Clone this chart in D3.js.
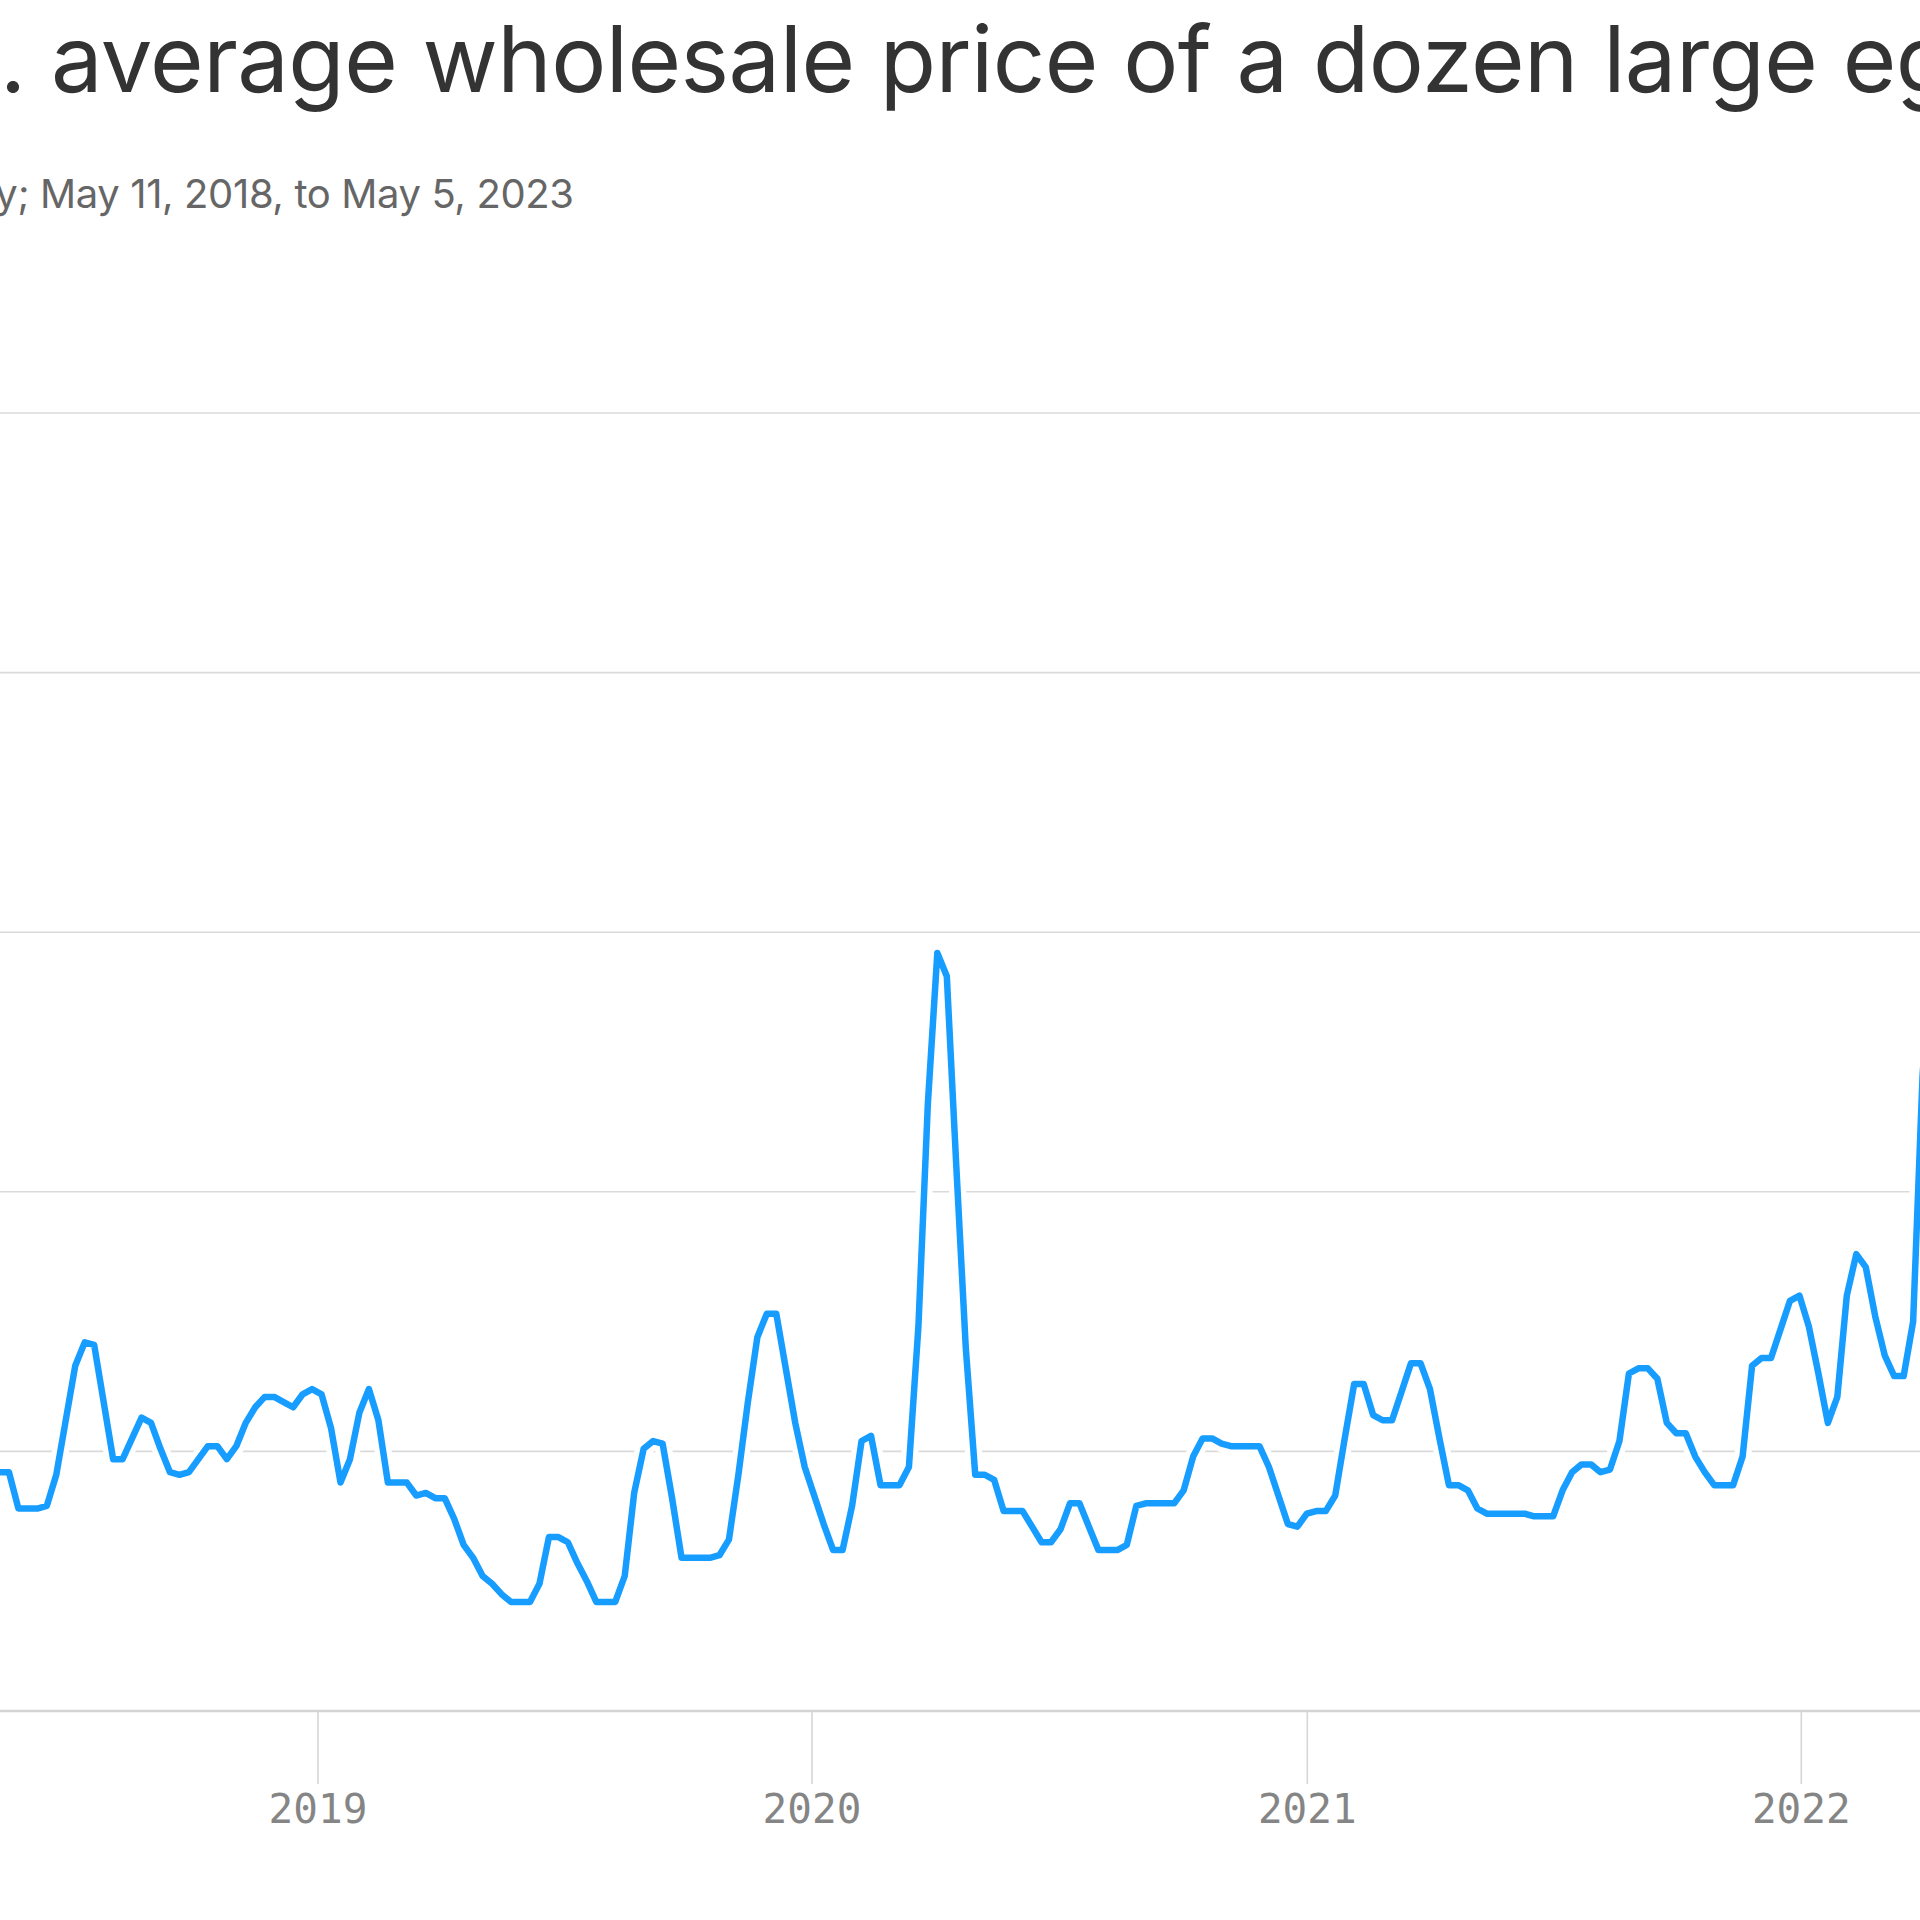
<!DOCTYPE html>
<html>
<head>
<meta charset="utf-8">
<script src="https://cdn.jsdelivr.net/npm/d3@7"></script>
<style>
  html, body { margin: 0; padding: 0; background: #fff; overflow: hidden; }
  svg { display: block; }
</style>
</head>
<body>
<svg id="chart" width="1920" height="1920"></svg>
<script>
// ---------------- DATA ----------------
const titleText = "U.S. average wholesale price of a dozen large eggs";
const subtitleText = "Weekly; May 11, 2018, to May 5, 2023";
const startDate = new Date(2018, 4, 11);   // first weekly observation (Friday)
const endDate = new Date(2023, 4, 5);      // last weekly observation
// Weekly price, dollars per dozen (read from the chart)
const prices = [
  0.92, 0.92, 0.78, 0.78, 0.78, 0.79, 0.91, 1.12, 1.33, 1.42,
  1.41, 1.19, 0.97, 0.97, 1.05, 1.13, 1.11, 1.01, 0.92, 0.91,
  0.92, 0.97, 1.02, 1.02, 0.97, 1.02, 1.11, 1.17, 1.21, 1.21,
  1.19, 1.17, 1.22, 1.24, 1.22, 1.09, 0.88, 0.97, 1.15, 1.24,
  1.12, 0.88, 0.88, 0.88, 0.83, 0.84, 0.82, 0.82, 0.74, 0.64,
  0.59, 0.52, 0.49, 0.45, 0.42, 0.42, 0.42, 0.49, 0.67, 0.67,
  0.65, 0.57, 0.50, 0.42, 0.42, 0.42, 0.52, 0.84, 1.01, 1.04,
  1.03, 0.82, 0.59, 0.59, 0.59, 0.59, 0.60, 0.66, 0.91, 1.19,
  1.44, 1.53, 1.53, 1.32, 1.11, 0.94, 0.83, 0.72, 0.62, 0.62,
  0.79, 1.04, 1.06, 0.87, 0.87, 0.87, 0.94, 1.48, 2.34, 2.92,
  2.83, 2.10, 1.40, 0.91, 0.91, 0.89, 0.77, 0.77, 0.77, 0.71,
  0.65, 0.65, 0.70, 0.80, 0.80, 0.71, 0.62, 0.62, 0.62, 0.64,
  0.79, 0.80, 0.80, 0.80, 0.80, 0.85, 0.98, 1.05, 1.05, 1.03,
  1.02, 1.02, 1.02, 1.02, 0.94, 0.83, 0.72, 0.71, 0.76, 0.77,
  0.77, 0.83, 1.05, 1.26, 1.26, 1.14, 1.12, 1.12, 1.23, 1.34,
  1.34, 1.24, 1.05, 0.87, 0.87, 0.85, 0.78, 0.76, 0.76, 0.76,
  0.76, 0.76, 0.75, 0.75, 0.75, 0.85, 0.92, 0.95, 0.95, 0.92,
  0.93, 1.04, 1.30, 1.32, 1.32, 1.28, 1.11, 1.07, 1.07, 0.98,
  0.92, 0.87, 0.87, 0.87, 0.98, 1.33, 1.36, 1.36, 1.47, 1.58,
  1.60, 1.48, 1.30, 1.11, 1.21, 1.60, 1.76, 1.71, 1.52, 1.37,
  1.29, 1.29, 1.50, 2.45, 2.95
];
const yearTicks = [2019, 2020, 2021, 2022];
const yTicks = [0, 1, 2, 3, 4, 5];

// ---------------- LAYOUT ----------------
const svg = d3.select("#chart");
const x = d3.scaleTime().domain([startDate, endDate]).range([-0.55, 2462.6]);
const y = d3.scaleLinear().domain([0, 5]).range([1711, 413]);

const data = prices.map((v, i) => ({ date: d3.timeDay.offset(startDate, 7 * i), value: v }));

// gridlines
svg.append("g").selectAll("line").data(yTicks).join("line")
  .attr("x1", -50).attr("x2", 2600)
  .attr("y1", d => y(d)).attr("y2", d => y(d))
  .attr("stroke", d => d === 0 ? "#d4d4d4" : "#dadada")
  .attr("stroke-width", d => d === 0 ? 2.5 : 1.6);

// x axis
const xAxis = d3.axisBottom(x)
  .tickValues(yearTicks.map(yr => new Date(yr, 0, 1)))
  .tickFormat(d3.timeFormat("%Y"))
  .tickSize(73)
  .tickPadding(10);
const gx = svg.append("g").attr("transform", `translate(0,${y(0)})`).call(xAxis);
gx.select(".domain").remove();
gx.selectAll(".tick line").attr("stroke", "#d6d6d6").attr("stroke-width", 1.6);
gx.selectAll(".tick text")
  .attr("fill", "#858585")
  .style("font-family", "'DejaVu Sans Mono', monospace")
  .style("font-size", "41px");

// line with white halo
const line = d3.line().x(d => x(d.date)).y(d => y(d.value));
svg.append("path").datum(data)
  .attr("d", line).attr("fill", "none")
  .attr("stroke", "#ffffff").attr("stroke-width", 17)
  .attr("stroke-linejoin", "round");
svg.append("path").datum(data)
  .attr("d", line).attr("fill", "none")
  .attr("stroke", "#169dff").attr("stroke-width", 6.5)
  .attr("stroke-linejoin", "round");

// ---------------- TEXT ----------------
function placeText(txt, opts) {
  const t = svg.append("text")
    .attr("x", 0).attr("y", opts.baseline)
    .attr("fill", opts.color)
    .style("font-family", opts.font)
    .style("font-weight", opts.weight)
    .style("font-size", opts.size + "px")
    .text(txt);
  const node = t.node();
  const i0 = txt.indexOf(opts.refStart);
  const n = opts.refStart.length;
  const w0 = node.getSubStringLength(i0, n);
  const ls = (opts.refWidth - w0) / (n - 1);
  t.style("letter-spacing", ls + "px");
  const px = node.getStartPositionOfChar(i0).x;
  t.attr("x", opts.refLeft - px);
  return t;
}

placeText(titleText, {
  baseline: 92, color: "#333333", font: "Inter, 'Liberation Sans', sans-serif", size: 92, weight: 400,
  refStart: "average wholesale price of a dozen large", refLeft: 51, refWidth: 1767
});
placeText(subtitleText, {
  baseline: 208, color: "#666666", font: "Inter, 'Liberation Sans', sans-serif", size: 40, weight: 400,
  refStart: "May 11, 2018, to May 5, 2023", refLeft: 40, refWidth: 534
});
</script>
</body>
</html>
